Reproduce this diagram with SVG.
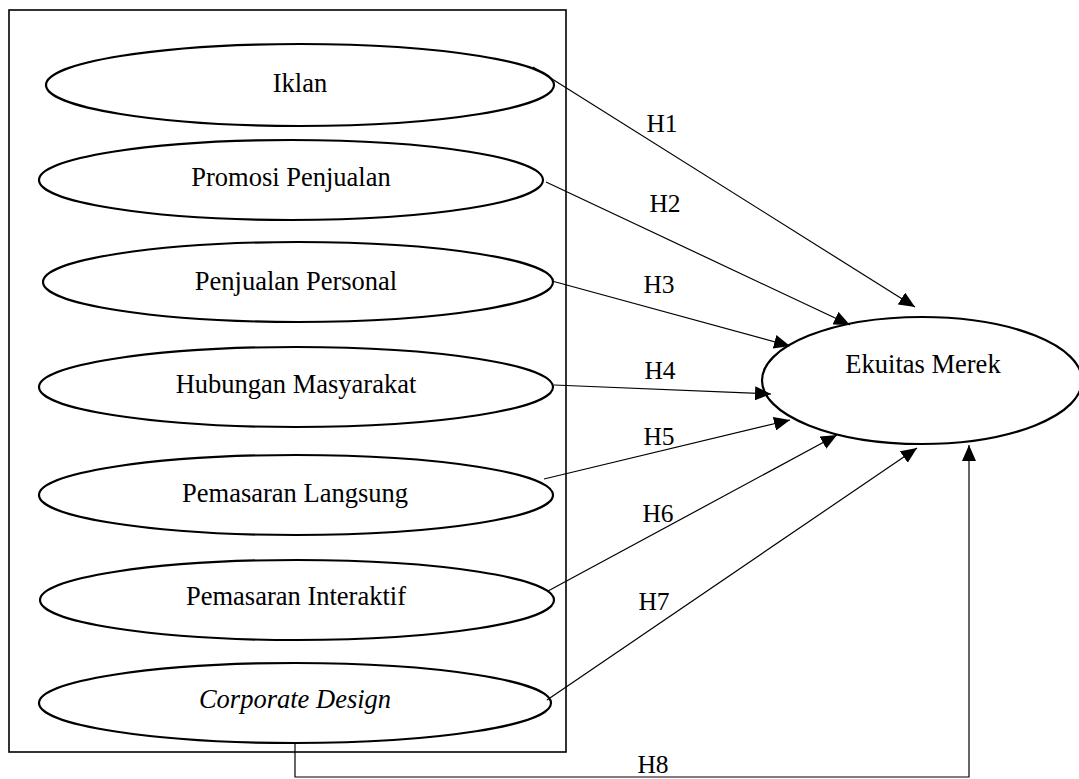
<svg xmlns="http://www.w3.org/2000/svg" width="1079" height="779" viewBox="0 0 1079 779">
<defs>
<style>
.node ellipse{fill:#fff;stroke:#000;stroke-width:2.2}
.lbl{font-family:"Liberation Serif","Times New Roman",serif;font-size:26.5px;fill:#000;text-anchor:middle}
.hl{font-family:"Liberation Serif","Times New Roman",serif;font-size:25.5px;fill:#000;text-anchor:middle}
.conn{fill:none;stroke:#000;stroke-width:1.2}
</style>
<marker id="ah" viewBox="0 0 16 14" refX="16" refY="7" markerWidth="16" markerHeight="14" markerUnits="userSpaceOnUse" orient="auto">
<path d="M0,0 L16,7 L0,14 Z" fill="#000"/>
</marker>
</defs>
<rect width="1079" height="779" fill="#fff"/>
<g id="frame"><rect x="9" y="10" width="557" height="742" fill="none" stroke="#000" stroke-width="1.6"/></g>
<g id="iklan" class="node"><ellipse cx="300" cy="85" rx="254" ry="41"/><text class="lbl" x="300" y="92">Iklan</text></g>
<g id="promosi" class="node"><ellipse cx="291" cy="180" rx="252" ry="40"/><text class="lbl" x="291" y="186">Promosi Penjualan</text></g>
<g id="personal" class="node"><ellipse cx="298" cy="282" rx="255" ry="40"/><text class="lbl" x="296" y="290">Penjualan Personal</text></g>
<g id="humas" class="node"><ellipse cx="296" cy="387" rx="257" ry="40"/><text class="lbl" x="296" y="393">Hubungan Masyarakat</text></g>
<g id="langsung" class="node"><ellipse cx="296" cy="495" rx="257" ry="40"/><text class="lbl" x="295" y="502">Pemasaran Langsung</text></g>
<g id="interaktif" class="node"><ellipse cx="297" cy="600" rx="257" ry="40"/><text class="lbl" x="296" y="605">Pemasaran Interaktif</text></g>
<g id="corporate" class="node"><ellipse cx="295" cy="703" rx="256" ry="40"/><text class="lbl" x="295" y="708" font-style="italic">Corporate Design</text></g>
<g id="ekuitas" class="node"><ellipse cx="922" cy="380.5" rx="160" ry="63.5"/><text class="lbl" x="923" y="373">Ekuitas Merek</text></g>
<g id="connectors">
<path class="conn" marker-end="url(#ah)" d="M533,67 L915,307"/>
<path class="conn" marker-end="url(#ah)" d="M546,182 L850,325"/>
<path class="conn" marker-end="url(#ah)" d="M552,281 L790,346"/>
<path class="conn" marker-end="url(#ah)" d="M554,385 L771,394"/>
<path class="conn" marker-end="url(#ah)" d="M544,479 L790,420"/>
<path class="conn" marker-end="url(#ah)" d="M548,591 L837,435"/>
<path class="conn" marker-end="url(#ah)" d="M547,700 L917,448"/>
<path class="conn" marker-end="url(#ah)" d="M295,744 L295,777 L969,777 L969,445"/>
<text class="hl" x="662" y="132">H1</text>
<text class="hl" x="665" y="212">H2</text>
<text class="hl" x="659" y="293">H3</text>
<text class="hl" x="660" y="379">H4</text>
<text class="hl" x="659" y="445">H5</text>
<text class="hl" x="658" y="522">H6</text>
<text class="hl" x="654" y="610">H7</text>
<text class="hl" x="653" y="773">H8</text>
</g>
</svg>
